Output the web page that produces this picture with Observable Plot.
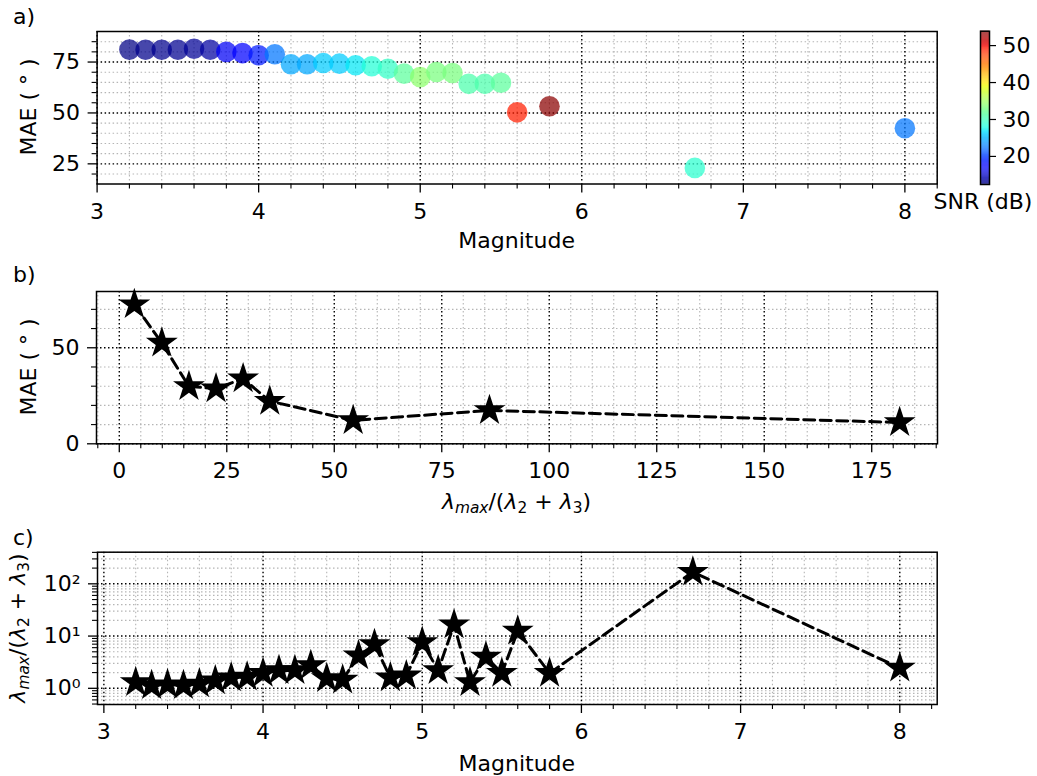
<!DOCTYPE html>
<html><head><meta charset="utf-8">
<script src="https://cdn.jsdelivr.net/npm/d3@7"></script>
<script src="https://cdn.jsdelivr.net/npm/@observablehq/plot@0.6"></script>
<style>
body{margin:0;background:#fff;font-family:"DejaVu Sans",sans-serif;}
#root{position:relative;width:1037px;height:776px;overflow:hidden;background:#fff;}
#root svg{position:absolute;left:0;top:0;}
.lbl{position:absolute;font-size:22px;line-height:1;white-space:nowrap;color:#000;font-family:"DejaVu Sans",sans-serif;}
.lbl sub{font-size:70%;vertical-align:-0.28em;line-height:0;}
</style></head><body><div id="root"></div><script>
// ---- Panel a: MAE vs magnitude, coloured by SNR ----
const magA = [3.2,3.3,3.4,3.5,3.6,3.7,3.8,3.9,4.0,4.1,4.2,4.3,4.4,4.5,4.6,4.7,4.8,4.9,5.0,5.1,5.2,5.3,5.4,5.5,5.6,5.8,6.7,8.0];
const maeA = [81.1,81,81,81,81.5,81,80,79.4,78.3,78.8,73.9,73.9,74.5,74.2,73.4,72.9,71.7,69.3,67.6,70.1,69.6,64.3,64.3,64.8,50.3,53.3,23.0,42.5];
const snrA = [12.6,12.8,12.9,13.0,13.2,13.6,16.6,17.4,18.6,22.4,24.4,24.4,25.9,25.9,27.0,28.6,29.4,31.5,34.0,33.0,33.0,30.7,30.7,31.5,48.9,53.5,29.0,22.4];
// ---- Panel b: MAE vs eigenvalue ratio ----
const ratioB = [3.5,9.9,16.2,22.5,28.8,35.0,54.4,86.1,181.5];
const maeB = [72.5,52.5,29.9,28.7,33.9,22.2,12.2,17.4,11.1];
// ---- Panel c: eigenvalue ratio vs magnitude ----
const magC = [3.2,3.3,3.4,3.5,3.6,3.7,3.8,3.9,4.0,4.1,4.2,4.3,4.4,4.5,4.6,4.7,4.8,4.9,5.0,5.1,5.2,5.3,5.4,5.5,5.6,5.8,6.7,8.0];
const ratioC = [1.30,1.13,1.18,1.13,1.22,1.40,1.60,1.65,1.95,2.2,2.2,2.75,1.55,1.45,4.2,6.9,1.6,1.75,7.6,2.2,16.5,1.3,4.0,1.95,12.5,1.95,168,2.45];
// ---- tick labels ----
const ticksMag = [3,4,5,6,7,8];
const ticksMaeA = [25,50,75];
const ticksRatioB = [0,25,50,75,100,125,150,175];
const ticksMaeB = [0,50];
const ticksLogC = [1,10,100];
const logLabels = ["10\u2070","10\u00B9","10\u00B2"];
const ticksSNR = [20,30,40,50];

const W = 1037, H = 776, FS = 22;
const snrDomain = [12.4, 53.9];

function jet(t){
  t = Math.max(0, Math.min(1, t));
  const seg = pts => { for (let i=1;i<pts.length;i++){ if (t <= pts[i][0]) { const [x0,y0]=pts[i-1],[x1,y1]=pts[i]; return y0+(y1-y0)*(t-x0)/(x1-x0);} } return pts[pts.length-1][1]; };
  const r = seg([[0,0],[0.35,0],[0.66,1],[0.89,1],[1,0.5]]);
  const g = seg([[0,0],[0.125,0],[0.375,1],[0.64,1],[0.91,0],[1,0]]);
  const b = seg([[0,0.5],[0.11,1],[0.34,1],[0.65,0],[1,0]]);
  return `rgb(${Math.round(r*255)},${Math.round(g*255)},${Math.round(b*255)})`;
}

const style = {background:"transparent", fontFamily:"DejaVu Sans, sans-serif", fontSize: FS+"px", color:"black", overflow:"visible"};
const gridMinor = {stroke:"#b5b5b5", strokeOpacity:1, strokeWidth:1.1, strokeDasharray:"1.5,2.5"};
const gridMajor = {stroke:"black", strokeOpacity:1, strokeWidth:1.4, strokeDasharray:"1.5,2.5"};
const tickMaj = {tickSize:9, strokeWidth:1.3, label:null};
const tickMin = {tickSize:5, strokeWidth:1.1, label:null, tickFormat:()=>""};
const notMajor = (arr, maj) => arr.filter(v => !maj.some(m => Math.abs(m-v) < 1e-6));

function frame(f){ return {marginLeft:f.left, marginRight:W-f.right, marginTop:f.top, marginBottom:H-f.bottom, width:W, height:H}; }

const root = document.getElementById("root");

// Panel a
const FA = {left:96.6, right:936.7, top:31, bottom:183.5};
const minorXA = notMajor(d3.range(32, 83, 2).map(v=>v/10), ticksMag);
const minorYA = notMajor(d3.range(20, 90, 5), ticksMaeA);
const dataA = magA.map((m,i)=>({mag:m, mae:maeA[i], snr:snrA[i]}));
root.append(Plot.plot({
  ...frame(FA), style,
  x:{domain:[3,8.2], axis:null}, y:{domain:[15.1,90], axis:null},
  color:{type:"linear", domain:snrDomain, interpolate:jet},
  marks:[
    Plot.gridX(minorXA, gridMinor), Plot.gridY(minorYA, gridMinor),
    Plot.gridX(ticksMag, gridMajor), Plot.gridY(ticksMaeA, gridMajor),
    Plot.dot(dataA, {x:"mag", y:"mae", fill:"snr", r:10.3, fillOpacity:0.72}),
    Plot.axisX({ticks:minorXA, ...tickMin}),
    Plot.axisY({ticks:minorYA, ...tickMin}),
    Plot.axisX({ticks:ticksMag, ...tickMaj, tickPadding:10, tickFormat:d=>String(d)}),
    Plot.axisY({ticks:ticksMaeA, ...tickMaj, tickPadding:8, tickFormat:d=>String(d)}),
    Plot.frame({stroke:"black", strokeWidth:1.5})
  ]
}));

// Colorbar
const FCB = {left:980, right:989, top:30.7, bottom:184};
const nSteps = 160, stepV = (snrDomain[1]-snrDomain[0])/nSteps;
const cbSteps = d3.range(nSteps).map(i => snrDomain[0] + i*stepV);
root.append(Plot.plot({
  ...frame(FCB), style,
  x:{domain:[0,1], axis:null}, y:{domain:snrDomain, axis:null},
  color:{type:"linear", domain:snrDomain, interpolate:jet},
  marks:[
    Plot.rect(cbSteps, {x1:0, x2:1, y1:d=>d, y2:d=>Math.min(snrDomain[1], d+stepV*1.3), fill:d=>d+stepV/2, fillOpacity:0.72}),
    Plot.axisY({anchor:"right", ticks:ticksSNR, tickSize:6, strokeWidth:1.2, tickPadding:7, label:null, tickFormat:d=>String(d)}),
    Plot.frame({stroke:"black", strokeWidth:1.5})
  ]
}));

// Panel b
const FB = {left:96, right:937, top:291, bottom:443.3};
const minorXB = notMajor(d3.range(-5, 191, 5), ticksRatioB);
const minorYB = notMajor(d3.range(10, 80, 10), ticksMaeB);
const dataB = ratioB.map((r,i)=>({r, mae:maeB[i]}));
root.append(Plot.plot({
  ...frame(FB), style,
  x:{domain:[-5.3,190.3], axis:null}, y:{domain:[0,79.3], axis:null},
  marks:[
    Plot.gridX(minorXB, gridMinor), Plot.gridY(minorYB, gridMinor),
    Plot.gridX(ticksRatioB, gridMajor), Plot.gridY(ticksMaeB, gridMajor),
    Plot.line(dataB, {x:"r", y:"mae", stroke:"black", strokeWidth:3, strokeDasharray:"11,5.5"}),
    Plot.dot(dataB, {x:"r", y:"mae", symbol:"star", r:10, fill:"black", stroke:"none"}),
    Plot.axisX({ticks:minorXB, ...tickMin}),
    Plot.axisY({ticks:minorYB, ...tickMin}),
    Plot.axisX({ticks:ticksRatioB, ...tickMaj, tickPadding:10, tickFormat:d=>String(d)}),
    Plot.axisY({ticks:ticksMaeB, ...tickMaj, tickPadding:8, tickFormat:d=>String(d)}),
    Plot.frame({stroke:"black", strokeWidth:1.5})
  ]
}));

// Panel c
const FC = {left:97, right:936.7, top:551.7, bottom:704};
const minorXC = notMajor(d3.range(30, 83, 2).map(v=>v/10), ticksMag);
const minorYC = [0.5,0.6,0.7,0.8,0.9,2,3,4,5,6,7,8,9,20,30,40,50,60,70,80,90,200,300,400];
const dataC = magC.map((m,i)=>({mag:m, r:ratioC[i]}));
root.append(Plot.plot({
  ...frame(FC), style,
  x:{domain:[2.96,8.235], axis:null}, y:{type:"log", domain:[0.49,403], axis:null},
  marks:[
    Plot.gridX(minorXC, gridMinor), Plot.gridY(minorYC, gridMinor),
    Plot.gridX(ticksMag, gridMajor), Plot.gridY(ticksLogC, gridMajor),
    Plot.line(dataC, {x:"mag", y:"r", stroke:"black", strokeWidth:3, strokeDasharray:"11,5.5"}),
    Plot.dot(dataC, {x:"mag", y:"r", symbol:"star", r:10, fill:"black", stroke:"none"}),
    Plot.axisX({ticks:minorXC, ...tickMin}),
    Plot.axisY({ticks:minorYC, ...tickMin}),
    Plot.axisX({ticks:ticksMag, ...tickMaj, tickPadding:10, tickFormat:d=>String(d)}),
    Plot.axisY({ticks:ticksLogC, ...tickMaj, tickPadding:8, tickFormat:d=>logLabels[ticksLogC.indexOf(d)]}),
    Plot.frame({stroke:"black", strokeWidth:1.5})
  ]
}));

// Text labels (HTML)
const lam = '<i>\u03BB</i><sub><i>max</i></sub>/(<i>\u03BB</i><sub>2</sub> + <i>\u03BB</i><sub>3</sub>)';
function label(html, x, baseline, opts={}){
  const d = document.createElement("div");
  d.className = "lbl"; d.innerHTML = html;
  if (opts.rotate){
    d.style.left = x+"px"; d.style.top = baseline+"px";
    d.style.transform = "translate(-50%,-50%) rotate(-90deg)";
  } else {
    d.style.top = (baseline - 0.846*FS)+"px";
    d.style.left = x+"px";
    if (opts.center) d.style.transform = "translateX(-50%)";
  }
  root.appendChild(d);
}
label("a)", 13, 25);
label("b)", 13, 283);
label("c)", 13, 546);
label("Magnitude", (FA.left+FA.right)/2, 249, {center:true});
label(lam, (FB.left+FB.right)/2, 510, {center:true});
label("Magnitude", (FC.left+FC.right)/2, 772, {center:true});
label("SNR (dB)", 983, 210, {center:true});
label("MAE ( \u00B0 )", 29, (FA.top+FA.bottom)/2, {rotate:true});
label("MAE ( \u00B0 )", 29, (FB.top+FB.bottom)/2, {rotate:true});
label(lam, 18, (FC.top+FC.bottom)/2, {rotate:true});
</script></body></html>
